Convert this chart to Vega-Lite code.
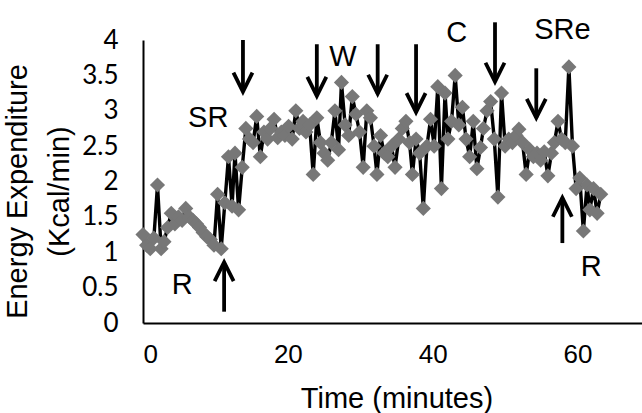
{
  "$schema": "https://vega.github.io/schema/vega-lite/v6.json",
  "width": 507,
  "height": 283,
  "autosize": {"type": "none"},
  "padding": {"left": 143, "top": 40, "right": 0, "bottom": 90},
  "background": "white",
  "config": {"view": {"stroke": null}, "font": "Liberation Sans", "axis": {"labelOverlap": false}},
  "datasets": {
    "ee": [
      {"t": 0, "e": 1.25}, {"t": 0.5, "e": 1.1}, {"t": 1.0, "e": 1.05}, {"t": 1.5, "e": 1.2}, {"t": 2.0, "e": 1.95},
      {"t": 2.5, "e": 1.05}, {"t": 2.9, "e": 1.15}, {"t": 3.4, "e": 1.35}, {"t": 3.9, "e": 1.55}, {"t": 4.4, "e": 1.4},
      {"t": 4.9, "e": 1.5}, {"t": 5.4, "e": 1.45}, {"t": 5.9, "e": 1.62}, {"t": 6.4, "e": 1.5}, {"t": 6.9, "e": 1.45},
      {"t": 7.4, "e": 1.4}, {"t": 7.8, "e": 1.35}, {"t": 8.3, "e": 1.28}, {"t": 8.8, "e": 1.22}, {"t": 9.3, "e": 1.18},
      {"t": 9.8, "e": 1.1}, {"t": 10.3, "e": 1.82}, {"t": 10.8, "e": 1.05}, {"t": 11.3, "e": 1.7}, {"t": 11.8, "e": 2.35},
      {"t": 12.3, "e": 1.65}, {"t": 12.7, "e": 2.4}, {"t": 13.2, "e": 1.6}, {"t": 13.7, "e": 2.2}, {"t": 14.2, "e": 2.75},
      {"t": 14.7, "e": 2.6}, {"t": 15.2, "e": 2.55}, {"t": 15.7, "e": 2.92}, {"t": 16.2, "e": 2.35}, {"t": 16.7, "e": 2.7},
      {"t": 17.2, "e": 2.6}, {"t": 17.6, "e": 2.75}, {"t": 18.1, "e": 2.88}, {"t": 18.6, "e": 2.62}, {"t": 19.1, "e": 2.7},
      {"t": 19.6, "e": 2.65}, {"t": 20.1, "e": 2.78}, {"t": 20.6, "e": 2.6}, {"t": 21.1, "e": 3.0}, {"t": 21.6, "e": 2.75},
      {"t": 22.1, "e": 2.85}, {"t": 22.5, "e": 2.7}, {"t": 23.0, "e": 2.8}, {"t": 23.5, "e": 2.1}, {"t": 24.0, "e": 2.9},
      {"t": 24.5, "e": 2.55}, {"t": 25.0, "e": 2.4}, {"t": 25.5, "e": 2.3}, {"t": 26.0, "e": 2.55}, {"t": 26.5, "e": 3.0},
      {"t": 27.0, "e": 2.45}, {"t": 27.4, "e": 3.4}, {"t": 27.9, "e": 2.8}, {"t": 28.4, "e": 2.65}, {"t": 28.9, "e": 3.2},
      {"t": 29.4, "e": 2.95}, {"t": 29.9, "e": 2.7}, {"t": 30.4, "e": 2.2}, {"t": 30.9, "e": 3.0}, {"t": 31.4, "e": 2.9},
      {"t": 31.9, "e": 2.5}, {"t": 32.3, "e": 2.1}, {"t": 32.8, "e": 2.65}, {"t": 33.3, "e": 2.4}, {"t": 33.8, "e": 2.35},
      {"t": 34.3, "e": 2.5}, {"t": 34.8, "e": 2.2}, {"t": 35.3, "e": 2.6}, {"t": 35.8, "e": 2.75}, {"t": 36.3, "e": 2.85},
      {"t": 36.8, "e": 2.55}, {"t": 37.2, "e": 2.1}, {"t": 37.7, "e": 2.6}, {"t": 38.2, "e": 2.4}, {"t": 38.7, "e": 1.62},
      {"t": 39.2, "e": 2.5}, {"t": 39.7, "e": 2.88}, {"t": 40.2, "e": 2.5}, {"t": 40.7, "e": 3.34}, {"t": 41.2, "e": 1.9},
      {"t": 41.7, "e": 3.25}, {"t": 42.1, "e": 2.6}, {"t": 42.6, "e": 2.85}, {"t": 43.1, "e": 3.5}, {"t": 43.6, "e": 2.8},
      {"t": 44.1, "e": 3.05}, {"t": 44.6, "e": 2.6}, {"t": 45.1, "e": 2.35}, {"t": 45.6, "e": 2.85}, {"t": 46.1, "e": 2.18},
      {"t": 46.6, "e": 2.48}, {"t": 47.0, "e": 2.75}, {"t": 47.5, "e": 3.0}, {"t": 48.0, "e": 3.13}, {"t": 48.5, "e": 2.6},
      {"t": 49.0, "e": 1.78}, {"t": 49.5, "e": 3.25}, {"t": 50.0, "e": 2.5}, {"t": 50.5, "e": 2.6}, {"t": 51.0, "e": 2.55},
      {"t": 51.5, "e": 2.65}, {"t": 51.9, "e": 2.74}, {"t": 52.4, "e": 2.55}, {"t": 52.9, "e": 2.1}, {"t": 53.4, "e": 2.45},
      {"t": 53.9, "e": 2.35}, {"t": 54.4, "e": 2.4}, {"t": 54.9, "e": 2.3}, {"t": 55.4, "e": 2.42}, {"t": 55.9, "e": 2.08},
      {"t": 56.4, "e": 2.4}, {"t": 56.8, "e": 2.55}, {"t": 57.3, "e": 2.85}, {"t": 57.8, "e": 2.6}, {"t": 58.3, "e": 2.55},
      {"t": 58.8, "e": 3.62}, {"t": 59.3, "e": 2.5}, {"t": 59.8, "e": 1.9}, {"t": 60.3, "e": 2.05}, {"t": 60.8, "e": 1.3},
      {"t": 61.3, "e": 1.95}, {"t": 61.7, "e": 1.6}, {"t": 62.2, "e": 1.9}, {"t": 62.7, "e": 1.55}, {"t": 63.2, "e": 1.82}
    ],
    "arrows": [
      {"t": 13.8, "from": 4.0, "tip": 3.27, "dir": "down"},
      {"t": 24.0, "from": 3.94, "tip": 3.21, "dir": "down"},
      {"t": 32.4, "from": 3.94, "tip": 3.24, "dir": "down"},
      {"t": 37.7, "from": 3.94, "tip": 2.98, "dir": "down"},
      {"t": 48.6, "from": 4.25, "tip": 3.41, "dir": "down"},
      {"t": 54.3, "from": 3.6, "tip": 2.9, "dir": "down"},
      {"t": 11.2, "from": 0.16, "tip": 0.86, "dir": "up"},
      {"t": 57.9, "from": 1.13, "tip": 1.77, "dir": "up"}
    ],
    "labels": [
      {"t": 9.0, "e": 2.9, "txt": "SR"},
      {"t": 27.6, "e": 3.76, "txt": "W"},
      {"t": 43.3, "e": 4.1, "txt": "C"},
      {"t": 57.9, "e": 4.14, "txt": "SRe"},
      {"t": 5.4, "e": 0.54, "txt": "R"},
      {"t": 61.9, "e": 0.79, "txt": "R"}
    ]
  },
  "encoding": {
    "x": {
      "field": "t", "type": "quantitative",
      "scale": {"domain": [0, 70], "nice": false, "zero": false},
      "axis": {
        "values": [0, 20, 40, 60], "ticks": false, "grid": false,
        "domainColor": "black", "domainWidth": 2,
        "labelFontSize": 26, "labelColor": "black", "labelPadding": 18,
        "labelFont": "Liberation Sans", "labelOverlap": false,
        "title": "Time  (minutes)", "titleFontSize": 29, "titleFontWeight": "normal",
        "titleColor": "black", "titlePadding": 17, "titleFont": "Liberation Sans"
      }
    }
  },
  "layer": [
    {
      "data": {"name": "ee"},
      "mark": {"type": "line", "color": "black", "strokeWidth": 3.4},
      "encoding": {
        "y": {
          "field": "e", "type": "quantitative",
          "scale": {"domain": [0, 4], "nice": false},
          "axis": {
            "tickCount": 8, "format": ".2~f",
            "ticks": false, "grid": false, "labelOverlap": false, "labelSeparation": 0,
            "domainColor": "black", "domainWidth": 2,
            "labelFontSize": 26, "labelColor": "black", "labelPadding": 25,
            "labelFont": "Lato",
            "title": ["Energy  Expenditure", "(Kcal/min)"],
            "titleFontSize": 29, "titleFontWeight": "normal", "titleColor": "black",
            "titleFont": "Liberation Sans", "titleLineHeight": 42,
            "titleAngle": -90, "titleAlign": "center", "titleBaseline": "top",
            "titleX": -140, "titleY": 151
          }
        }
      }
    },
    {
      "data": {"name": "ee"},
      "mark": {"type": "point", "shape": "diamond", "filled": true, "color": "#777777", "opacity": 1, "size": 230},
      "encoding": {
        "y": {"field": "e", "type": "quantitative"}
      }
    },
    {
      "data": {"name": "arrows"},
      "mark": {"type": "rule", "color": "black", "strokeWidth": 3.8},
      "encoding": {
        "y": {"field": "from", "type": "quantitative"},
        "y2": {"field": "tip"}
      }
    },
    {
      "data": {"name": "arrows"},
      "transform": [{"filter": "datum.dir === 'down'"}],
      "mark": {"type": "point", "shape": "M-1,-2L0,0L1,-2", "filled": false, "stroke": "black", "strokeWidth": 3.8, "opacity": 1, "size": 361},
      "encoding": {
        "y": {"field": "tip", "type": "quantitative"}
      }
    },
    {
      "data": {"name": "arrows"},
      "transform": [{"filter": "datum.dir === 'up'"}],
      "mark": {"type": "point", "shape": "M-1,2L0,0L1,2", "filled": false, "stroke": "black", "strokeWidth": 3.8, "opacity": 1, "size": 361},
      "encoding": {
        "y": {"field": "tip", "type": "quantitative"}
      }
    },
    {
      "data": {"name": "labels"},
      "mark": {"type": "text", "fontSize": 29, "color": "black", "font": "Liberation Sans", "align": "center", "baseline": "middle"},
      "encoding": {
        "y": {"field": "e", "type": "quantitative"},
        "text": {"field": "txt"}
      }
    }
  ]
}
